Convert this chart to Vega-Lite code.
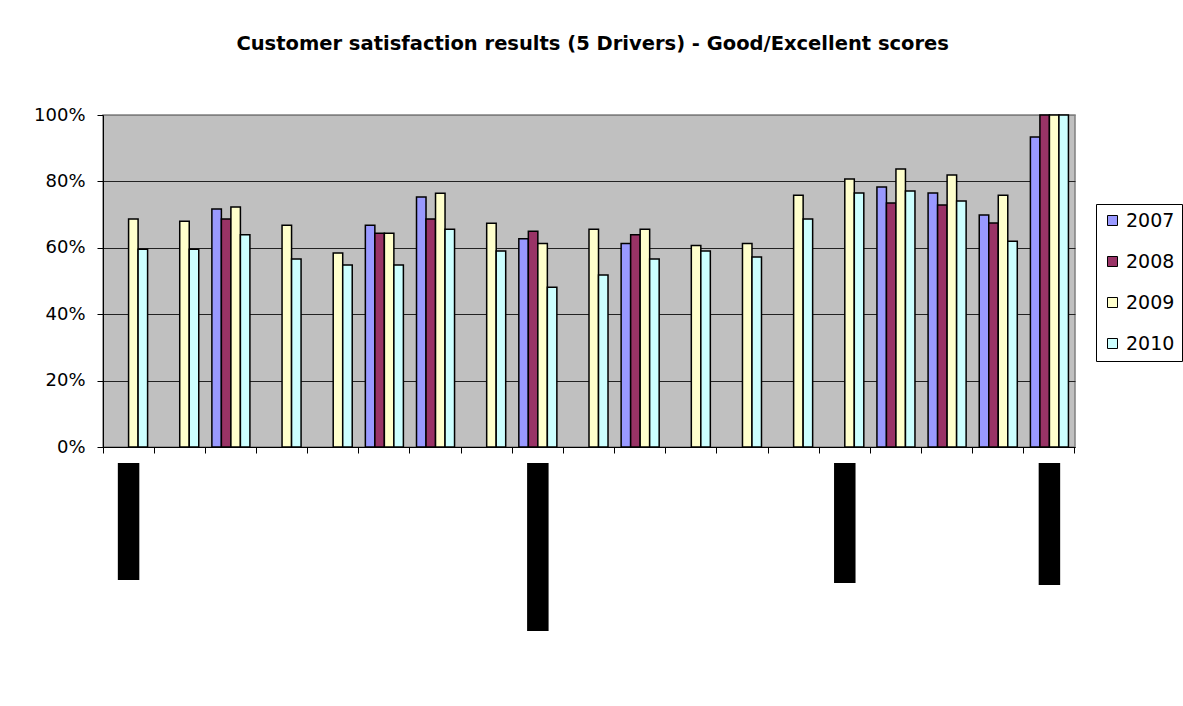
{
  "$schema": "https://vega.github.io/schema/vega-lite/v6.json",
  "padding": {"left": 32, "top": 33, "right": 4, "bottom": 75},
  "background": "white",
  "title": {
    "text": "Customer satisfaction results (5 Drivers) - Good/Excellent scores",
    "font": "DejaVu Sans",
    "fontSize": 19.5,
    "fontWeight": "bold",
    "color": "black",
    "anchor": "middle",
    "dx": -15,
    "offset": 51
  },
  "datasets": {
    "scores": [
      {"item": "1", "year": "2009", "value": 0.687},
      {"item": "1", "year": "2010", "value": 0.596},
      {"item": "2", "year": "2009", "value": 0.680},
      {"item": "2", "year": "2010", "value": 0.596},
      {"item": "3", "year": "2007", "value": 0.717},
      {"item": "3", "year": "2008", "value": 0.687},
      {"item": "3", "year": "2009", "value": 0.723},
      {"item": "3", "year": "2010", "value": 0.639},
      {"item": "4", "year": "2009", "value": 0.668},
      {"item": "4", "year": "2010", "value": 0.566},
      {"item": "5", "year": "2009", "value": 0.584},
      {"item": "5", "year": "2010", "value": 0.548},
      {"item": "6", "year": "2007", "value": 0.668},
      {"item": "6", "year": "2008", "value": 0.644},
      {"item": "6", "year": "2009", "value": 0.644},
      {"item": "6", "year": "2010", "value": 0.548},
      {"item": "7", "year": "2007", "value": 0.753},
      {"item": "7", "year": "2008", "value": 0.687},
      {"item": "7", "year": "2009", "value": 0.764},
      {"item": "7", "year": "2010", "value": 0.656},
      {"item": "8", "year": "2009", "value": 0.674},
      {"item": "8", "year": "2010", "value": 0.590},
      {"item": "9", "year": "2007", "value": 0.627},
      {"item": "9", "year": "2008", "value": 0.650},
      {"item": "9", "year": "2009", "value": 0.613},
      {"item": "9", "year": "2010", "value": 0.481},
      {"item": "10", "year": "2009", "value": 0.656},
      {"item": "10", "year": "2010", "value": 0.518},
      {"item": "11", "year": "2007", "value": 0.613},
      {"item": "11", "year": "2008", "value": 0.639},
      {"item": "11", "year": "2009", "value": 0.656},
      {"item": "11", "year": "2010", "value": 0.566},
      {"item": "12", "year": "2009", "value": 0.607},
      {"item": "12", "year": "2010", "value": 0.590},
      {"item": "13", "year": "2009", "value": 0.613},
      {"item": "13", "year": "2010", "value": 0.572},
      {"item": "14", "year": "2009", "value": 0.758},
      {"item": "14", "year": "2010", "value": 0.687},
      {"item": "15", "year": "2009", "value": 0.807},
      {"item": "15", "year": "2010", "value": 0.765},
      {"item": "16", "year": "2007", "value": 0.783},
      {"item": "16", "year": "2008", "value": 0.735},
      {"item": "16", "year": "2009", "value": 0.837},
      {"item": "16", "year": "2010", "value": 0.771},
      {"item": "17", "year": "2007", "value": 0.765},
      {"item": "17", "year": "2008", "value": 0.729},
      {"item": "17", "year": "2009", "value": 0.819},
      {"item": "17", "year": "2010", "value": 0.741},
      {"item": "18", "year": "2007", "value": 0.699},
      {"item": "18", "year": "2008", "value": 0.675},
      {"item": "18", "year": "2009", "value": 0.758},
      {"item": "18", "year": "2010", "value": 0.620},
      {"item": "19", "year": "2007", "value": 0.934},
      {"item": "19", "year": "2008", "value": 1.0},
      {"item": "19", "year": "2009", "value": 1.0},
      {"item": "19", "year": "2010", "value": 1.0}
    ],
    "redacted": [
      {"item": "1", "length": 117},
      {"item": "9", "length": 168},
      {"item": "15", "length": 120},
      {"item": "19", "length": 122}
    ]
  },
  "spacing": 16,
  "bounds": "flush",
  "vconcat": [
    {
      "width": 972,
      "height": 332,
      "view": {"fill": "#C0C0C0", "stroke": "#808080", "strokeWidth": 1.5},
      "data": {"name": "scores"},
      "mark": {"type": "bar", "stroke": "black", "strokeWidth": 1.5},
      "encoding": {
        "x": {
          "field": "item",
          "type": "nominal",
          "scale": {
            "domain": ["1","2","3","4","5","6","7","8","9","10","11","12","13","14","15","16","17","18","19"],
            "paddingInner": 0,
            "paddingOuter": 0
          },
          "axis": {
            "title": null,
            "labels": false,
            "bandPosition": 1,
            "tickExtra": true,
            "tickSize": 6,
            "tickColor": "black",
            "domainColor": "black",
            "grid": false
          }
        },
        "xOffset": {
          "field": "year",
          "type": "nominal",
          "scale": {"domain": ["2007","2008","2009","2010"], "paddingInner": 0, "paddingOuter": 0.69}
        },
        "y": {
          "field": "value",
          "type": "quantitative",
          "scale": {"domain": [0, 1], "nice": false},
          "axis": {
            "title": null,
            "values": [0, 0.2, 0.4, 0.6, 0.8, 1],
            "format": ".0%",
            "labelFont": "DejaVu Sans",
            "labelFontSize": 18,
            "labelColor": "black",
            "labelPadding": 12,
            "tickSize": 6,
            "tickColor": "black",
            "domainColor": "black",
            "grid": true,
            "gridColor": {"condition": {"test": "datum.value === 1", "value": "#808080"}, "value": "#222222"},
            "gridWidth": 1
          }
        },
        "color": {
          "field": "year",
          "type": "nominal",
          "scale": {"domain": ["2007","2008","2009","2010"], "range": ["#9999FF","#993366","#FFFFCC","#CCFFFF"]},
          "legend": {
            "title": null,
            "orient": "none",
            "legendX": 993,
            "legendY": 89,
            "strokeColor": "black",
            "padding": 7,
            "symbolType": "square",
            "symbolSize": 100,
            "symbolStrokeColor": "black",
            "symbolStrokeWidth": 1,
            "symbolOpacity": 1,
            "labelFont": "DejaVu Sans",
            "labelFontSize": 19,
            "labelColor": "black",
            "labelOffset": 4,
            "rowPadding": 21
          }
        }
      }
    },
    {
      "width": 972,
      "height": 168,
      "view": {"stroke": null, "fill": null},
      "data": {"name": "redacted"},
      "mark": {"type": "bar", "color": "black", "width": {"band": 0.42}},
      "encoding": {
        "x": {
          "field": "item",
          "type": "nominal",
          "scale": {
            "domain": ["1","2","3","4","5","6","7","8","9","10","11","12","13","14","15","16","17","18","19"],
            "paddingInner": 0,
            "paddingOuter": 0
          },
          "axis": null
        },
        "y": {
          "field": "length",
          "type": "quantitative",
          "scale": {"domain": [0, 168], "reverse": true, "nice": false},
          "axis": null
        }
      }
    }
  ]
}
